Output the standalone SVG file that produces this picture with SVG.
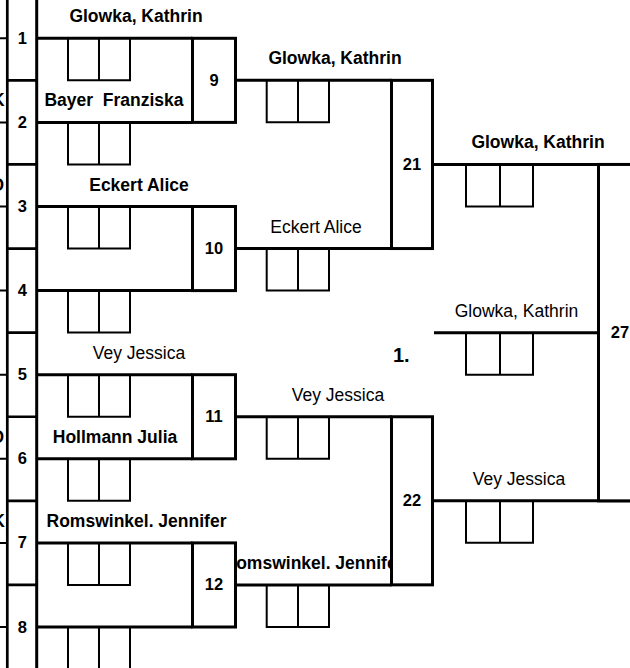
<svg xmlns="http://www.w3.org/2000/svg" width="630" height="668" viewBox="0 0 630 668">
<style>
.ln{stroke:#000;stroke-width:3;fill:none}
.bx{stroke:#000;stroke-width:3;fill:#fff}
.th{stroke:#000;stroke-width:2.7;fill:none}
.st{stroke:#000;stroke-width:2;fill:none}
.gr{stroke:#000;stroke-width:2;fill:none}
.b{font-family:"Liberation Sans",Arial,sans-serif;font-weight:bold;font-size:17.5px;text-anchor:middle;fill:#000}
.r{font-family:"Liberation Sans",Arial,sans-serif;font-size:17.5px;text-anchor:middle;fill:#000}
.n{font-family:"Liberation Sans",Arial,sans-serif;font-weight:bold;font-size:16.5px;text-anchor:middle;fill:#000}
.e{font-family:"Liberation Sans",Arial,sans-serif;font-weight:bold;font-size:17.5px;text-anchor:end;fill:#000}
</style>
<defs>
<clipPath id="clipLeft"><rect x="0" y="0" width="6" height="668"/></clipPath>
<clipPath id="clipR2"><rect x="237" y="540" width="153" height="40"/></clipPath>
<path id="g1" class="gr" d="M68,0 v42 h62 v-42 M99,0 v42"/>
<path id="g2" class="gr" d="M266.7,0 v42 h62.3 v-42 M298,0 v42"/>
<path id="g3" class="gr" d="M466,0 v42 h67 v-42 M500,0 v42"/>
</defs>
<rect width="630" height="668" fill="#fff"/>

<g id="previous-round-clipped" clip-path="url(#clipLeft)">
<text class="e" x="4.6" y="106.4">K</text>
<text class="e" x="4" y="190.5">O</text>
<text class="e" x="4" y="442.8">O</text>
<text class="e" x="4.8" y="526.9">K</text>
</g>

<g id="seed-column">
<line class="th" x1="7.3" y1="0" x2="7.3" y2="668"/>
<line class="ln" x1="36.7" y1="0" x2="36.7" y2="668"/>
<path class="th" d="M7.3,80.35H36.7 M7.3,164.45H36.7 M7.3,248.55H36.7 M7.3,332.65H36.7 M7.3,416.75H36.7 M7.3,500.85H36.7 M7.3,584.95H36.7"/>
<path class="st" d="M0,38.3H7.3 M0,122.4H7.3 M0,206.5H7.3 M0,290.6H7.3 M0,374.7H7.3 M0,458.8H7.3 M0,542.9H7.3 M0,627H7.3"/>
<text class="n" x="22.3" y="43.8">1</text>
<text class="n" x="22.3" y="127.9">2</text>
<text class="n" x="22.3" y="212">3</text>
<text class="n" x="22.3" y="296.1">4</text>
<text class="n" x="22.3" y="380.2">5</text>
<text class="n" x="22.3" y="464.3">6</text>
<text class="n" x="22.3" y="548.4">7</text>
<text class="n" x="22.3" y="632.5">8</text>
</g>

<g id="connectors">
<path class="ln" d="M36.7,38.3H192.5 M36.7,122.4H192.5 M36.7,206.5H192.5 M36.7,290.6H192.5 M36.7,374.7H192.5 M36.7,458.8H192.5 M36.7,542.9H192.5 M36.7,627H192.5"/>
<path class="ln" d="M235.5,80.35H391.5 M235.5,248.55H391.5 M235.5,416.75H391.5 M235.5,584.95H391.5"/>
<path class="ln" d="M432.5,164.45H630 M432.5,500.85H630 M434,332.65H598.5"/>
</g>

<g id="entries-round1">
<use href="#g1" y="38.3"/><use href="#g1" y="122.4"/><use href="#g1" y="206.5"/><use href="#g1" y="290.6"/>
<use href="#g1" y="374.7"/><use href="#g1" y="458.8"/><use href="#g1" y="542.9"/><use href="#g1" y="627"/>
<text class="b" x="136" y="22.3">Glowka, Kathrin</text>
<text class="b" x="114" y="106.4" xml:space="preserve">Bayer  Franziska</text>
<text class="b" x="139" y="190.5">Eckert Alice</text>
<text class="r" x="139" y="358.7">Vey Jessica</text>
<text class="b" x="115" y="442.8">Hollmann Julia</text>
<text class="b" x="136.5" y="526.9">Romswinkel. Jennifer</text>
</g>

<g id="entries-round2">
<use href="#g2" y="80.35"/><use href="#g2" y="248.55"/><use href="#g2" y="416.75"/><use href="#g2" y="584.95"/>
<text class="b" x="335" y="64.3">Glowka, Kathrin</text>
<text class="r" x="316" y="232.5">Eckert Alice</text>
<text class="r" x="338" y="400.7">Vey Jessica</text>
<g clip-path="url(#clipR2)"><text class="b" x="313.5" y="569">Romswinkel. Jennifer</text></g>
</g>

<g id="entries-round3">
<use href="#g3" y="164.45"/><use href="#g3" y="332.65"/><use href="#g3" y="500.85"/>
<text class="b" x="538" y="148.4">Glowka, Kathrin</text>
<text class="r" x="516.5" y="316.6">Glowka, Kathrin</text>
<text class="r" x="519" y="484.8">Vey Jessica</text>
<text x="393" y="362" style="font-family:'Liberation Sans',Arial,sans-serif;font-weight:bold;font-size:20px">1.</text>
</g>

<g id="match-9"><rect class="bx" x="192.5" y="38.3" width="43" height="84.1"/><text class="n" x="214" y="85.5">9</text></g>
<g id="match-10"><rect class="bx" x="192.5" y="206.5" width="43" height="84.1"/><text class="n" x="214" y="253.6">10</text></g>
<g id="match-11"><rect class="bx" x="192.5" y="374.7" width="43" height="84.1"/><text class="n" x="214" y="421.8">11</text></g>
<g id="match-12"><rect class="bx" x="192.5" y="542.9" width="43" height="84.1"/><text class="n" x="214" y="590">12</text></g>
<g id="match-21"><rect class="bx" x="391.5" y="80.35" width="41" height="168.2"/><text class="n" x="412" y="169.6">21</text></g>
<g id="match-22"><rect class="bx" x="391.5" y="416.75" width="41" height="168.1"/><text class="n" x="412" y="506">22</text></g>
<g id="match-27"><rect class="bx" x="598.5" y="164.45" width="40" height="336.4"/><text class="n" x="620" y="337.8">27</text></g>
</svg>
